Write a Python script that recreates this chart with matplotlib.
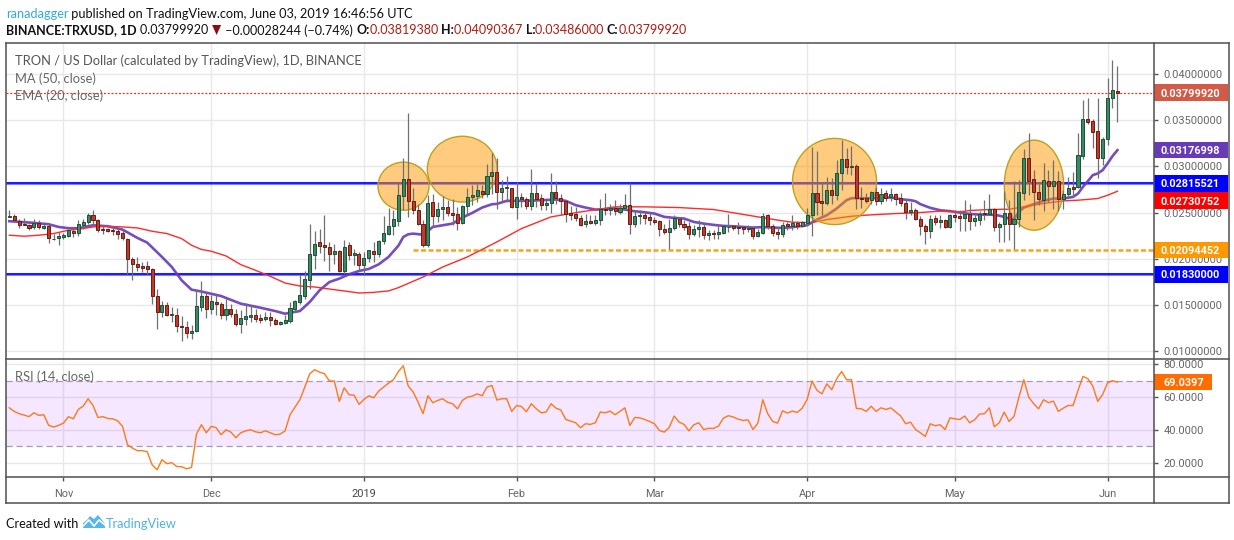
import numpy as np
import matplotlib
matplotlib.use("Agg")
import matplotlib.pyplot as plt
import pandas as pd
from matplotlib.lines import Line2D
from matplotlib.patches import Ellipse, Rectangle, Polygon

# ---- data: prices in thousandths of a US dollar, one value per daily bar ----
start_date = "2018-10-21"
opens = [24.56,24.60,24.09,23.73,23.70,23.44,23.91,23.33,23.59,22.14,22.28,22.35,22.46,22.97,22.83,23.62,23.98,24.78,24.24,23.26,
         23.19,23.08,23.04,22.75,22.17,20.00,19.46,19.17,19.17,18.91,15.98,14.20,15.00,13.88,13.91,12.72,12.54,11.92,12.14,14.75,
         15.91,14.53,15.25,15.04,13.84,14.49,14.02,12.86,13.44,13.66,13.84,13.51,13.48,13.62,13.30,12.90,13.01,13.23,14.53,15.29,
         15.94,17.68,20.40,21.77,21.45,21.30,20.51,20.87,18.66,21.45,20.40,20.54,19.31,20.11,20.80,20.54,21.92,22.68,23.55,24.13,
         26.81,28.69,26.30,25.32,23.80,21.48,26.19,24.60,25.40,25.65,25.00,24.89,23.84,25.72,26.70,26.77,27.39,27.03,28.98,29.45,
         27.24,27.68,27.68,25.61,26.74,26.52,25.72,27.17,26.63,25.87,26.05,27.28,26.63,26.30,24.92,24.89,24.46,23.77,24.13,23.88,
         24.20,25.43,25.29,25.51,25.11,25.51,25.87,23.77,24.64,24.71,24.56,24.17,24.13,23.26,22.86,23.33,24.35,23.80,23.51,22.64,
         23.19,23.40,22.53,22.75,22.64,22.79,23.40,23.59,23.44,23.40,23.22,23.30,22.46,22.79,24.71,23.59,22.86,22.68,23.73,23.52,
         23.84,23.52,23.84,24.68,27.10,26.23,26.05,27.43,26.92,29.24,30.76,29.96,30.04,26.63,26.63,26.38,27.28,26.27,27.07,26.70,
         26.96,26.60,26.09,25.04,25.25,24.35,23.59,22.97,24.38,23.95,24.17,23.44,24.71,24.60,24.42,24.82,24.09,24.20,25.00,24.85,
         25.43,23.44,23.77,25.00,23.77,24.31,27.14,30.87,28.59,27.28,26.38,28.37,27.90,28.37,26.48,27.03,27.75,27.72,31.16,35.11,
         34.93,33.80,30.94,33.01,37.46,38.19]
highs = [25.25,24.82,24.35,24.46,23.80,24.35,24.24,23.73,23.73,22.72,22.90,22.79,23.26,23.26,24.24,24.35,25.00,25.25,24.35,23.51,
         23.37,23.44,23.26,23.15,22.28,20.18,20.18,19.64,19.71,19.02,16.74,15.36,15.29,14.75,14.67,13.73,13.23,12.75,16.74,17.54,
         16.27,16.01,16.01,15.29,15.65,15.11,14.57,14.38,15.22,14.93,14.57,14.02,14.20,14.20,13.59,13.23,13.84,15.29,15.47,18.19,
         18.62,23.80,22.97,23.19,24.71,21.81,21.63,20.91,21.99,21.81,21.09,20.72,20.72,20.98,21.81,21.99,24.60,25.54,25.25,28.33,
         30.87,35.76,27.71,25.98,24.24,26.88,27.06,26.16,26.77,26.34,26.52,25.61,25.79,27.61,27.97,28.08,27.97,30.32,31.41,30.87,
         28.51,28.95,27.71,28.33,27.17,26.70,29.71,28.26,27.06,26.34,29.31,28.44,26.99,26.41,25.69,25.61,24.71,24.89,24.71,24.71,
         26.52,27.17,25.98,26.34,25.98,26.99,28.22,25.25,25.25,25.07,25.07,24.53,24.24,23.80,24.35,24.71,24.53,24.17,23.98,23.62,
         24.17,23.88,23.08,23.15,23.62,23.62,24.89,23.62,23.98,23.55,23.62,23.51,23.26,25.00,24.89,23.81,23.44,23.99,23.99,24.71,
         24.10,24.10,25.54,32.14,31.67,28.33,28.88,28.70,30.69,32.86,31.96,32.25,30.25,27.72,27.07,27.36,27.72,27.61,27.43,27.61,
         27.17,27.07,26.52,26.16,25.44,24.60,23.81,24.71,24.71,24.71,24.35,24.89,25.25,25.25,26.34,25.98,24.71,25.14,26.34,26.96,
         25.50,23.99,27.32,26.41,28.41,28.51,31.88,33.59,29.60,28.15,30.33,29.60,30.69,29.49,27.43,28.88,29.35,33.59,37.21,37.39,
         35.11,37.39,33.15,39.64,41.56,40.90]
lows = [24.53,24.02,23.37,23.62,23.08,23.26,23.26,23.26,21.70,21.99,21.45,22.10,22.35,22.35,22.43,23.26,23.80,23.62,22.90,22.72,
        22.90,22.54,22.17,21.99,18.37,17.64,18.66,18.55,18.37,15.04,12.32,13.66,13.73,13.12,12.03,11.05,11.41,11.23,12.03,14.27,
        13.59,13.95,13.84,13.41,13.37,13.66,12.65,11.92,12.75,13.12,13.12,13.01,13.23,12.68,12.75,12.83,12.93,13.04,14.20,15.04,
        15.58,16.74,18.91,20.65,19.71,18.66,19.46,18.59,18.30,19.82,19.27,18.80,18.37,19.64,19.64,20.18,21.63,22.53,22.53,23.51,
        25.25,24.53,24.89,23.62,21.27,21.27,23.44,23.98,24.16,24.60,23.62,23.08,23.80,24.89,25.79,26.16,26.63,26.70,27.06,25.43,
        26.16,26.16,25.54,24.35,25.61,25.43,25.25,25.61,25.25,25.25,24.96,25.98,24.71,23.98,24.16,24.05,23.55,23.44,23.80,23.62,
        23.62,24.71,24.71,24.71,24.89,25.25,22.64,23.44,23.80,23.80,23.62,23.73,22.43,22.72,21.01,23.08,23.44,23.15,22.17,22.43,
        22.35,22.17,22.06,22.17,22.17,22.72,22.90,23.15,22.72,22.72,22.90,22.17,22.35,22.72,23.26,22.43,22.17,22.36,23.08,23.08,
        23.26,23.44,23.62,22.43,24.71,24.71,25.80,25.98,26.34,27.43,29.13,29.06,25.36,25.44,26.05,25.91,25.80,25.91,26.27,26.27,
        25.80,25.69,24.35,24.71,24.24,22.54,21.56,22.25,23.62,23.37,23.37,23.37,23.99,23.01,23.01,23.08,23.51,23.62,24.17,24.78,
        22.97,21.81,21.81,21.99,21.00,23.44,26.34,26.88,24.17,25.80,25.18,26.16,25.43,25.14,25.43,26.70,26.70,27.61,30.83,34.60,
        32.03,28.77,30.14,32.32,36.38,34.86]
closes = [24.60,24.17,23.66,23.70,23.33,23.91,23.44,23.59,22.28,22.17,22.43,22.61,23.08,22.83,23.73,24.02,24.78,24.24,23.15,23.08,
          23.01,23.01,22.68,22.25,19.96,19.46,19.09,18.99,18.88,15.98,14.20,15.00,13.91,13.95,12.68,12.57,11.92,12.10,14.89,15.91,
          14.53,15.36,15.07,13.88,14.49,13.95,12.90,13.51,13.73,13.84,13.44,13.33,13.62,13.33,12.90,13.08,13.30,14.60,15.36,16.01,
          17.75,20.54,21.63,21.38,21.27,20.51,20.87,18.66,21.30,20.40,20.58,19.31,20.11,20.91,20.51,21.96,22.75,23.51,24.27,26.85,
          28.69,26.27,25.32,23.77,21.48,26.08,24.63,25.43,25.65,24.96,24.74,23.84,25.76,26.74,26.88,27.42,27.03,29.02,29.38,27.24,
          27.71,27.75,25.61,26.74,26.48,25.72,27.17,26.48,25.83,26.01,27.28,26.59,26.27,24.89,24.78,24.42,23.66,24.13,23.88,24.24,
          25.43,25.29,25.54,25.18,25.54,25.87,23.77,24.67,24.71,24.42,24.17,23.95,23.19,22.86,23.37,24.38,23.73,23.40,22.64,23.19,
          23.40,22.53,22.75,22.68,22.86,23.55,23.40,23.33,23.33,23.19,23.37,22.46,22.86,24.67,23.50,22.79,22.68,23.70,23.52,23.84,
          23.52,23.95,24.71,27.07,26.16,26.05,27.50,26.92,29.24,30.76,29.96,30.04,26.56,26.52,26.23,27.28,26.27,26.99,26.63,26.96,
          26.49,26.05,25.04,25.25,24.31,23.52,22.97,24.35,23.95,24.17,23.44,24.71,24.53,24.42,24.82,24.09,24.38,24.89,24.82,25.43,
          23.44,23.80,25.00,23.73,24.35,27.28,30.87,28.41,27.25,26.48,28.48,27.90,28.37,26.52,27.06,27.61,27.57,31.23,35.11,34.85,
          33.77,30.94,32.97,37.39,38.26,38.00]

ma_bars = [1,6,9,11,13,15,18,21,24,27,29,32,34,36,38,40,44,48,52,55,57,58,60,62,64,66,68,70,72,74,76,78,80,81,82,83,85,86,87,89,91,93,95,97,99,100,102,104,106,109,112,114,116,118,120,122,124,126,128,130,132,134,136,138,140,142,144,146,148,150,152,154,156,158,160,163,165,167,169,171,172,174,176,178,180,182,184,185,186,188,190,192,194,196,198,200,202,204,205,206,207,209,211,213,215,217,218,219,220,221,222,223,224,225,226]
ma_values = [24.06,23.88,23.73,23.44,23.30,23.30,23.62,23.51,23.15,22.25,21.74,20.18,19.09,17.64,16.63,16.43,15.94,15.11,14.67,14.31,14.02,14.13,14.31,15.29,16.56,17.46,17.83,18.30,18.66,18.88,19.38,20.18,21.40,22.35,22.64,22.71,22.60,23.00,23.44,23.62,23.80,24.45,24.96,25.54,25.90,25.94,26.27,26.27,26.27,26.34,26.41,26.27,25.80,25.54,25.32,25.36,25.43,25.32,25.14,25.03,24.89,24.53,24.42,24.35,23.98,23.80,23.66,23.55,23.51,23.44,23.37,23.42,23.37,23.33,23.41,23.62,24.24,24.71,25.44,26.34,26.56,26.56,26.56,26.60,26.63,26.45,26.34,26.23,25.91,25.51,25.25,25.15,25.00,24.85,24.78,24.78,24.67,24.35,24.27,25.07,25.54,25.91,26.27,26.52,26.52,26.70,27.06,27.79,28.41,29.06,29.24,29.60,30.33,31.12,31.77]
ema_bars = [1,4,7,10,13,16,18,21,24,27,30,33,36,38,40,42,45,48,51,54,57,60,63,66,69,72,75,78,80,85,89,94,100,105,111,117,124,130,137,144,151,155,158,160,164,167,172,176,181,185,190,194,196,200,204,207,211,215,218,222,224,226]
ema_values = [22.54,22.43,22.54,22.72,23.08,23.26,23.44,23.51,23.44,23.33,22.97,22.72,22.17,21.45,21.00,20.80,20.29,19.35,18.73,18.08,17.35,17.03,16.92,16.70,16.49,16.27,16.34,16.49,16.85,18.00,19.09,20.18,21.81,23.26,24.53,25.07,25.62,25.62,25.54,25.33,24.71,24.35,24.10,23.95,23.91,24.24,24.60,24.75,24.89,24.97,25.15,25.07,25.22,25.33,25.36,25.62,25.98,26.27,26.34,26.52,26.88,27.31]
rsi_values = [53.4,51.2,49.8,49.0,48.0,50.4,48.8,49.2,42.7,41.7,42.7,44.1,48.0,46.7,52.4,54.4,58.9,54.8,47.5,48.0,
              46.9,46.7,45.5,42.1,30.9,28.9,27.3,27.3,26.7,18.7,15.7,21.8,19.4,20.0,17.7,17.5,16.3,17.1,37.4,43.1,
              38.2,42.1,41.3,37.0,40.0,38.6,35.2,38.2,39.4,40.0,38.8,38.2,39.4,38.2,37.0,37.4,39.4,49.2,53.8,58.3,
              66.0,74.1,76.6,75.1,74.1,69.7,69.7,57.3,65.6,61.3,61.1,55.5,58.5,60.7,59.5,63.6,66.0,68.4,70.5,75.5,
              79.0,66.6,63.0,56.9,49.8,60.7,56.5,57.9,58.9,56.7,55.9,52.8,57.9,59.9,60.5,61.9,60.7,66.0,67.0,58.1,
              58.9,58.9,51.2,54.8,54.2,51.0,55.9,52.8,50.4,50.8,55.9,53.2,52.0,46.3,45.3,44.3,41.3,43.7,43.3,44.3,
              50.8,50.4,51.4,49.2,51.2,53.4,42.7,47.5,47.3,46.3,45.1,43.7,39.6,38.6,41.5,48.4,44.7,43.3,39.4,43.1,
              44.3,40.2,40.9,40.9,42.3,47.1,48.6,47.8,46.5,45.7,46.1,40.2,44.1,58.3,49.8,45.1,44.1,51.6,50.2,51.4,
              50.6,53.2,58.5,69.7,64.0,61.9,68.0,64.4,71.1,75.5,70.5,70.5,53.0,52.8,51.2,54.4,51.2,53.4,52.4,53.4,
              50.8,48.4,43.7,44.7,40.2,38.2,36.0,43.7,42.5,43.1,40.2,47.3,46.7,46.3,48.4,44.3,46.1,49.6,49.8,53.4,
              41.9,44.3,50.8,45.1,48.2,59.9,70.5,59.9,55.9,52.8,58.3,56.5,57.5,51.2,53.2,54.8,54.8,64.0,72.5,71.1,
              66.6,57.3,61.5,68.6,69.9,69.04]

support_levels = [0.02815521, 0.01830000]
dashed_level = 0.02094452
dashed_from_bar = 83
last_price = 0.03799920
price_ticks = [0.01, 0.015, 0.02, 0.025, 0.03, 0.035, 0.04]
rsi_ticks = [20, 40, 60, 80]
month_dates = ["2018-11-01","2018-12-01","2019-01-01","2019-02-01","2019-03-01","2019-04-01","2019-05-01","2019-06-01"]
month_labels = ["Nov","Dec","2019","Feb","Mar","Apr","May","Jun"]
# highlighted zones: centre bar, centre price, width in bars, height in price
zones = [(81.04,0.02786,10.36,0.00522),(92.98,0.02971,14.2,0.00714),
         (168.56,0.02837,17.06,0.00935),(209.06,0.02797,12.06,0.00978)]
tags = [("0.03799920",0.0379992,"#d35a47",0),("0.03176998",0.03176998,"#673ab7",0),
        ("0.02815521",0.02815521,"#0000ff",0),("0.02730752",0.02730752,"#ff0000",9.5),
        ("0.02094452",0.02094452,"#ff9800",0),("0.01830000",0.0183,"#0000ff",0)]

# ---- layout ----
W, H = 1234, 540
AXFONT = "Roboto"
TXFONT = "Lato"
plt.rcParams["font.family"] = [AXFONT, "DejaVu Sans"]
fig = plt.figure(figsize=(W/100, H/100), dpi=100, facecolor="white")
L, R, T, M, B, F = 6, 1154, 43, 358.5, 476.5, 503
def axes_px(x0, x1, y0, y1):
    return fig.add_axes([x0/W, 1-y1/H, (x1-x0)/W, (y1-y0)/H])
ax = axes_px(L, R, T, M)
rx = axes_px(L, R, M, B)
GRID = "#e8e8e8"
EDGE = "#555555"
TXT = "#666666"
AXSIZE = 7.9
n = len(closes)
bars = np.arange(1, n+1)
to_price = lambda seq: np.asarray(seq)/1000.0
o, h, l, c = map(to_price, (opens, highs, lows, closes))
xlim = (0.33, 233.43)
dates = pd.to_datetime(month_dates)
month_bars = [(d-pd.Timestamp(start_date)).days+1 for d in dates]

for a in (ax, rx):
    a.set_xlim(*xlim)
    a.set_xticks(month_bars)
    a.grid(True, color=GRID, lw=1.0)
    a.set_axisbelow(True)
    a.yaxis.tick_right()
    for s in a.spines.values():
        s.set_visible(False)
ax.set_ylim(0.00916, 0.04340)
ax.set_yticks(price_ticks)
ax.set_yticklabels([f"{v:.8f}" for v in price_ticks])
ax.tick_params(axis="x", length=0, labelbottom=False)
ax.tick_params(axis="y", length=3, width=1, color=EDGE, labelcolor=TXT, labelsize=AXSIZE, pad=3.8)

# lines beneath the highlighted zones
for lv in support_levels:
    ax.axhline(lv, color="#0000ff", lw=2.2, alpha=0.5, zorder=2)
    ax.axhline(lv, color="#0000ff", lw=1.1, zorder=2)
ax.plot(ma_bars, to_price(ma_values), color="#673ab7", lw=1.9, alpha=0.9, zorder=3)
ax.plot(ema_bars, to_price(ema_values), color="#ff2a2a", lw=1.0, zorder=3)
ax.hlines(dashed_level, dashed_from_bar, xlim[1], color="#ff9800", lw=1.8, linestyles=(0,(2.0,1.0)), alpha=0.9, zorder=2)
ax.axhline(last_price, color="#dc3c28", lw=0.9, linestyle=(0,(1.6,1.4)), zorder=2)

for (cx, cy, w, hh) in zones:
    ax.add_patch(Ellipse((cx, cy), w, hh, facecolor="#ff9800", alpha=0.5, edgecolor="none", zorder=4))
    ax.add_patch(Ellipse((cx, cy), w, hh, facecolor="none", edgecolor="#c0a020", lw=1.0, zorder=4))

# candles above zones
up = c >= o
ax.vlines(bars, l, h, color="#707070", lw=0.9, zorder=5)
body_bot = np.minimum(o, c)
body_h = np.abs(c-o)
ax.bar(bars[up], body_h[up], 0.62, body_bot[up], facecolor="#378b62", edgecolor="#1f4f3a", lw=0.7, zorder=6)
ax.bar(bars[~up], body_h[~up], 0.62, body_bot[~up], facecolor="#c0392b", edgecolor="#6a1c12", lw=0.7, zorder=6)

# RSI pane
rx.set_ylim(11.6, 83.4)
rx.set_yticks(rsi_ticks)
rx.set_yticklabels([f"{v:.4f}" for v in rsi_ticks])
rx.tick_params(axis="y", length=3, width=1, color=EDGE, labelcolor=TXT, labelsize=AXSIZE, pad=3.8)
rx.tick_params(axis="x", length=3, width=1, color=EDGE, labelcolor=TXT, labelsize=AXSIZE, pad=5.8)
rx.set_xticklabels(month_labels)
rx.get_xticklabels()[2].set_color("#444444")
rx.axhspan(30, 70, color="#9915ff", alpha=0.10, lw=0, zorder=1)
for lv in (30, 70):
    rx.axhline(lv, color="#a89ab5", lw=0.9, linestyle=(0,(5,3)), zorder=2)
rx.plot(bars, rsi_values, color="#ff6d00", lw=1.0, alpha=0.9, zorder=3)

# frame
for (x0,y0,x1,y1) in [(L,T,1229,T),(L,F,1229,F),(L,T,L,F),(1229,T,1229,F),(R,T,R,F),(L,M,1229,M),(L,B,1229,B)]:
    fig.add_artist(Line2D([x0/W,x1/W],[1-y0/H,1-y1/H],color="#505050",lw=1.1,zorder=8))

# value tags
fig.canvas.draw()
def add_tag(axis, text, val, color, dy, x1):
    yd = axis.transData.transform((1, val))[1]
    yp = H-yd+dy
    fig.add_artist(Rectangle((R/W, 1-(yp+8.3)/H), (x1-R)/W, 16.6/H, transform=fig.transFigure,
                             facecolor=color, edgecolor="none", zorder=6))
    xc = 1190.5 if axis is ax else 1183.5
    fig.text(xc/W, 1-yp/H, text, color="white", fontweight="bold",
             fontsize=AXSIZE-0.1, ha="center", va="center_baseline", zorder=7)
for text, val, color, dy in tags:
    add_tag(ax, text, val, color, dy, 1227.5)
add_tag(rx, "69.0397", 69.0397, "#ff6d00", 0, 1211.5)

# text helpers: a run of pieces is sized so that it spans a measured width
rend = fig.canvas.get_renderer()
def px_text(x, y, s, **kw):
    kw.setdefault("va", "center_baseline")
    kw.setdefault("family", [TXFONT, "DejaVu Sans"])
    return fig.text(x/W, 1-y/H, s, zorder=9, **kw)
def run_width(parts, size):
    tot = 0
    for s, col, wt in parts:
        t = px_text(0, -50, s, fontsize=size, fontweight=wt)
        bb = t.get_window_extent(rend)
        tot += bb.width
        t.remove()
    return tot
def fit(parts, target):
    return 10*target/run_width(parts, 10)
def chain(x, y, parts, size):
    for s, col, wt in parts:
        t = px_text(x, y, s, color=col, fontsize=size, fontweight=wt)
        x = t.get_window_extent(rend).x1
    return x

# pane legends
legend_size = fit([("TRON / US Dollar (calculated by TradingView), 1D, BINANCE","","normal")], 346)
px_text(15, 60, "TRON / US Dollar (calculated by TradingView), 1D, BINANCE", color="#555555", fontsize=legend_size)
px_text(15, 77.5, "MA (50, close)", color=TXT, fontsize=legend_size)
px_text(15, 95, "EMA (20, close)", color=TXT, fontsize=legend_size)
px_text(15, 376, "RSI (14, close)", color=TXT, fontsize=legend_size)

# header rows
row1 = [("ranadagger","#35a9dd","normal"),(" published on TradingView.com, June 03, 2019 16:46:56 UTC","#111111","normal")]
chain(6, 12.5, row1, fit(row1, 407))
RED = "#b01c12"
row2a = [("BINANCE:TRXUSD, 1D ","#111111","bold"),("0.03799920 ","#111111","normal")]
row2b = [(" \u22120.00028244 (\u22120.74%) ","#111111","normal"),("O:","#111111","bold"),("0.03819380 ",RED,"normal"),
         ("H:","#111111","bold"),("0.04090367 ",RED,"normal"),("L:","#111111","bold"),("0.03486000 ",RED,"normal"),
         ("C:","#111111","bold"),("0.03799920",RED,"normal")]
size2 = fit(row2a+row2b, 667)
x_end = chain(6, 29.5, row2a, size2)
fig.add_artist(Polygon([[(x_end+1)/W,1-25/H],[(x_end+10)/W,1-25/H],[(x_end+5.5)/W,1-35/H]],closed=True,transform=fig.transFigure,facecolor="#8b0f0f",edgecolor="none",zorder=9))
chain(x_end+11, 29.5, row2b, size2)

# footer
foot = [("Created with","#111111","normal")]
chain(6, 522.5, foot, fit(foot, 73))
brand = [("TradingView","#4fb4dd","normal")]
chain(106, 522.5, brand, fit(brand, 71))
fig.add_artist(Polygon([[x/W,1-y/H] for x,y in [(83,528),(83,523),(87,520),(90,516),(94,519),(98,515),(102,520),(105,524),(105,528)]],closed=True,
                       transform=fig.transFigure,facecolor="#57b7e6",edgecolor="none",zorder=9))
fig.add_artist(Line2D([x/W for x in (83,89,94,99,105)],[1-y/H for y in (526,520,526,520,525)],color="white",lw=1.2,zorder=10))
fig.savefig("out.png", dpi=100, facecolor="white")
